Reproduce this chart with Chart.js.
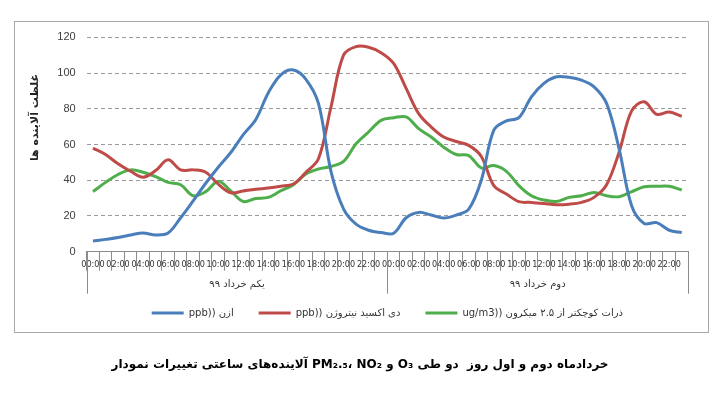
<!DOCTYPE html>
<html><head><meta charset="utf-8">
<script src="https://cdn.jsdelivr.net/npm/chart.js@4/dist/chart.umd.min.js"></script>
<style>html,body{margin:0;padding:0;background:#fff;}canvas{display:block;}</style>
</head><body>
<canvas id="c" width="720" height="399"></canvas>
<script>
const hours = ["00:00","01:00","02:00","03:00","04:00","05:00","06:00","07:00","08:00","09:00","10:00","11:00",
               "12:00","13:00","14:00","15:00","16:00","17:00","18:00","19:00","20:00","21:00","22:00","23:00"];
const days = ["یکم خرداد ۹۹", "دوم خرداد ۹۹"];
const seriesNames = ["ازن ((ppb", "دی اکسید نیتروژن ((ppb", "ذرات کوچکتر از ۲.۵ میکرون ((ug/m3"];
const yTitle = "غلظت آلاینده ها";
const chartTitle = "نمودار تغییرات ساعتی آلاینده‌های PM₂.₅، NO₂ و O₃ طی دو  روز اول و دوم خردادماه";

const ozone = [6.0, 6.9, 7.9, 9.4, 10.5, 9.4, 10.5, 19, 28.5, 38.3, 47.3, 55.5,
               65.5, 74, 89, 99, 101.7, 96.5, 83, 45, 24, 15.4, 12, 10.7,
               10.3, 19, 22, 20.5, 18.8, 20.5, 23.8, 40, 68, 73.2, 75, 86.7,
               94.2, 97.9, 97.6, 96, 92.3, 83, 57.6, 25.7, 15.8, 16.3, 12, 10.7];
const no2 = [58, 54.4, 49.2, 45, 41.7, 45.4, 51.4, 45.8, 45.8, 44.5, 37.8, 33,
             34, 35, 35.6, 36.6, 37.9, 44.5, 52, 81, 110, 114.8, 114.4, 111.4,
             105.4, 91.4, 77.3, 69.8, 64.2, 61.7, 59.5, 53.3, 37, 32.3, 28, 27.6,
             27, 26.3, 26.6, 27.6, 30.4, 37.5, 55.7, 78.8, 83.9, 76.9, 78.2, 75.8];
const pm25 = [33.6, 38.8, 43.2, 45.8, 44.5, 42, 38.8, 37.5, 31.3, 33.6, 39.4, 34,
              28.1, 29.8, 30.4, 34.1, 37.5, 43.5, 46.3, 47.7, 50.5, 60.4, 67, 73.5,
              75, 75.4, 68.9, 64.2, 58.5, 54.4, 53.8, 46.9, 48.2, 45, 37, 31.3,
              28.9, 28.1, 30.4, 31.3, 33.2, 31.3, 30.8, 33.6, 36.4, 36.6, 36.6, 34.5];
const yMin = 0, yMax = 120, yStep = 20;

const colors = ["#4A7EBB", "#BE4B48", "#4FAE4C"];
const rtl = s => "\u202B" + s + "\u202C";
const ltrWords = s => s.split(" ").join("\u200E \u200E");
const categories = days.flatMap(() => hours);

const decor = {
  id: "decor",
  beforeDraw(chart) {
    const c = chart.ctx;
    c.save();
    c.fillStyle = "#fff";
    c.fillRect(0, 0, chart.width, chart.height);
    c.strokeStyle = "#a8a8a8";
    c.lineWidth = 1;
    c.strokeRect(14.5, 21.5, 694, 311);
    c.restore();
  },
  afterDraw(chart) {
    const c = chart.ctx, x = chart.scales.x, a = chart.chartArea;
    const mid = (x.getPixelForValue(hours.length - 1) + x.getPixelForValue(hours.length)) / 2;
    c.save();
    c.strokeStyle = "#8c8c8c";
    c.lineWidth = 1;
    c.beginPath();
    [a.left, mid, a.right].forEach(px => {
      const xx = Math.round(px) + 0.5;
      c.moveTo(xx, x.top);
      c.lineTo(xx, x.top + 42);
    });
    c.stroke();
    c.fillStyle = "#333";
    c.font = '10px "DejaVu Sans"';
    c.textAlign = "center";
    c.textBaseline = "middle";
    c.fillText(rtl(days[0]), (a.left + mid) / 2, x.top + 33);
    c.fillText(rtl(days[1]), (mid + a.right) / 2, x.top + 33);
    c.translate(35.5, 117.5);
    c.rotate(-Math.PI / 2);
    c.font = 'bold 11px "DejaVu Sans"';
    c.fillStyle = "#222";
    c.fillText(rtl(yTitle), 0, 0);
    c.restore();
  }
};

const mk = (i, data) => ({
  label: seriesNames[i], data, borderColor: colors[i], backgroundColor: colors[i],
  borderWidth: 3, pointRadius: 0, tension: 0.35, fill: false
});

new Chart(document.getElementById("c"), {
  type: "line",
  data: { labels: categories, datasets: [mk(0, ozone), mk(1, no2), mk(2, pm25)] },
  plugins: [decor],
  options: {
    responsive: false,
    animation: false,
    devicePixelRatio: 1,
    layout: { padding: { left: 32, right: 32, top: 37.3, bottom: 0 } },
    scales: {
      x: {
        type: "category",
        offset: true,
        afterFit: s => { s.height = 31.3; },
        grid: { display: true, drawOnChartArea: false, drawTicks: true, tickLength: 19, offset: true, color: "#8c8c8c" },
        border: { display: true, color: "#8c8c8c" },
        ticks: {
          autoSkip: false, maxRotation: 0, minRotation: 0, padding: -11,
          color: "#333",
          font: { family: "'Liberation Sans Narrow', 'DejaVu Sans Condensed', 'Liberation Sans', sans-serif", size: 9 },
          callback: (v, i) => (i % 2 === 0 ? categories[i] : "")
        }
      },
      y: {
        min: yMin, max: yMax,
        afterFit: s => { s.width = 54.7; },
        grid: { drawTicks: false, color: c => (c.tick && c.tick.value === 0 ? "rgba(0,0,0,0)" : "#9a9a9a") },
        border: { display: false, dash: [4, 3] },
        ticks: { stepSize: yStep, padding: 11, color: "#404040", font: { family: "'Liberation Sans', sans-serif", size: 11 } }
      }
    },
    plugins: {
      legend: {
        position: "bottom", fullSize: false,
        labels: {
          boxWidth: 32, boxHeight: 3, padding: 25, color: "#333",
          font: { family: "'DejaVu Sans'", size: 10 },
          generateLabels: chart => chart.data.datasets.map((d, i) => ({
            text: rtl(d.label), fillStyle: d.borderColor, strokeStyle: d.borderColor,
            lineWidth: 0, hidden: false, datasetIndex: i, fontColor: "#333"
          }))
        }
      },
      title: {
        display: true, position: "bottom", text: ltrWords(chartTitle), color: "#000",
        font: { family: "'DejaVu Sans'", size: 12, weight: "bold", lineHeight: 1.2 },
        padding: { top: 29.8, bottom: 26.8 }
      },
      tooltip: { enabled: false }
    }
  }
});
</script>
</body></html>
